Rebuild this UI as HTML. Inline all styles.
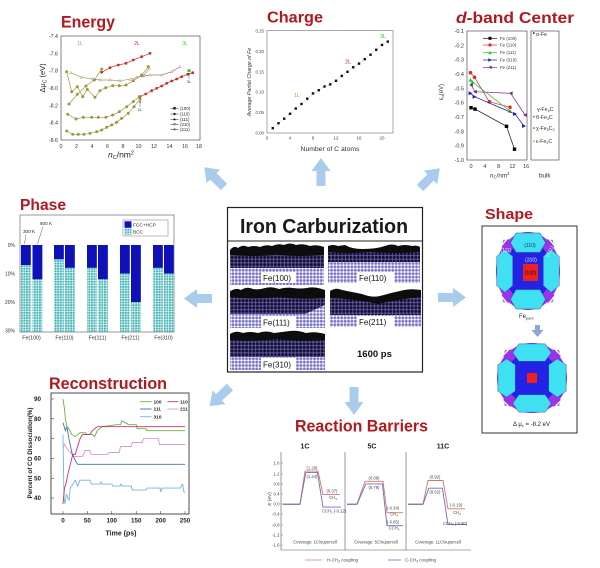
<!DOCTYPE html>
<html><head><meta charset="utf-8"><style>
html,body{margin:0;padding:0;background:#fff;width:600px;height:568px;overflow:hidden}
svg{display:block}
text{font-family:"Liberation Sans",Arial,sans-serif}
</style></head><body>
<svg width="600" height="568" viewBox="0 0 600 568" xmlns="http://www.w3.org/2000/svg">
<defs>
<pattern id="lav" width="3.4" height="3.4" patternUnits="userSpaceOnUse"><rect width="3.4" height="3.4" fill="#fff"/><circle cx="1.7" cy="1.7" r="1.45" fill="#7c76c6"/></pattern>
<pattern id="dark" width="3.6" height="3.6" patternUnits="userSpaceOnUse"><rect width="3.6" height="3.6" fill="#5c55aa"/><circle cx="1.8" cy="1.8" r="1.45" fill="#121122"/></pattern>
<pattern id="bcc" width="2.6" height="2.6" patternUnits="userSpaceOnUse"><rect width="2.6" height="2.6" fill="#e6f7f7"/><rect width="1.9" height="1.9" fill="#3fb2b2"/></pattern>
<marker id="mo" markerWidth="4" markerHeight="4" refX="2" refY="2" markerUnits="userSpaceOnUse"><circle cx="2" cy="2" r="1.3" fill="#a3a03c" stroke="#6e6b20" stroke-width="0.3"/></marker>
<marker id="mr" markerWidth="4" markerHeight="4" refX="2" refY="2" markerUnits="userSpaceOnUse"><circle cx="2" cy="2" r="1.4" fill="#c9302b"/></marker>
<marker id="mt" markerWidth="4" markerHeight="4" refX="2" refY="2" markerUnits="userSpaceOnUse"><path d="M2,0.6 L3.3,3 L0.7,3Z" fill="#fff" stroke="#8a8a5a" stroke-width="0.4"/></marker>
<marker id="msq" markerWidth="4" markerHeight="4" refX="2" refY="2" markerUnits="userSpaceOnUse"><rect x="0.8" y="0.8" width="2.4" height="2.4" fill="#111"/></marker>
<marker id="dk" markerWidth="5" markerHeight="5" refX="2.5" refY="2.5" markerUnits="userSpaceOnUse"><rect x="0.8" y="0.8" width="3.4" height="3.4" fill="#000"/></marker>
<marker id="dr" markerWidth="5" markerHeight="5" refX="2.5" refY="2.5" markerUnits="userSpaceOnUse"><circle cx="2.5" cy="2.5" r="1.8" fill="#e02a2a"/></marker>
<marker id="dg" markerWidth="5" markerHeight="5" refX="2.5" refY="2.5" markerUnits="userSpaceOnUse"><path d="M2.5,0.5 L4.6,4.3 L0.4,4.3Z" fill="#22cc22"/></marker>
<marker id="db" markerWidth="5" markerHeight="5" refX="2.5" refY="2.5" markerUnits="userSpaceOnUse"><path d="M0.6,0.5 L4.5,2.5 L0.6,4.5Z" fill="#1a1aa8"/></marker>
<marker id="dp" markerWidth="5" markerHeight="5" refX="2.5" refY="2.5" markerUnits="userSpaceOnUse"><path d="M4.4,0.5 L0.5,2.5 L4.4,4.5Z" fill="#7a2a8a"/></marker>
<g id="poly">
<circle r="40" fill="#9b34e8"/>
<polygon points="-16,-30 16,-30 30,-16 30,16 16,30 -16,30 -30,16 -30,-16" fill="#2323e6"/>
<polygon points="25,-33 33,-25 25,-17 17,-25" fill="#9b34e8"/>
<polygon points="-25,-33 -33,-25 -25,-17 -17,-25" fill="#9b34e8"/>
<polygon points="25,33 33,25 25,17 17,25" fill="#9b34e8"/>
<polygon points="-25,33 -33,25 -25,17 -17,25" fill="#9b34e8"/>
<polygon points="-15,-39 15,-39 22,-29 15,-19 -15,-19 -22,-29" fill="#3fe0f2" stroke="#2a2ab0" stroke-width="0.5"/>
<polygon points="-15,39 15,39 22,29 15,19 -15,19 -22,29" fill="#3fe0f2" stroke="#2a2ab0" stroke-width="0.5"/>
<polygon points="-39,-15 -39,15 -29,22 -19,15 -19,-15 -29,-22" fill="#3fe0f2" stroke="#2a2ab0" stroke-width="0.5"/>
<polygon points="39,-15 39,15 29,22 19,15 19,-15 29,-22" fill="#3fe0f2" stroke="#2a2ab0" stroke-width="0.5"/>
<polygon points="28,-32 32,-28 31,-32" fill="#888"/>
<polygon points="-28,-32 -32,-28 -31,-32" fill="#888"/>
<polygon points="28,32 32,28 31,32" fill="#888"/>
<polygon points="-28,32 -32,28 -31,32" fill="#888"/>
</g>
<polygon id="arr" points="0,-4.5 15,-4.5 15,-9.5 28,0 15,9.5 15,4.5 0,4.5"/>
</defs>

<!-- Arrows -->
<g fill="#a9cbec">
<use href="#arr" transform="translate(224,187) rotate(-135)"/>
<use href="#arr" transform="translate(321,186) rotate(-90)"/>
<use href="#arr" transform="translate(420,188) rotate(-45)"/>
<use href="#arr" transform="translate(212,298.5) rotate(180)"/>
<use href="#arr" transform="translate(438,297.5)"/>
<use href="#arr" transform="translate(230,387) rotate(137)"/>
<use href="#arr" transform="translate(354,387) rotate(90)"/>
</g>

<!-- ============ ENERGY ============ -->
<text x="61" y="27.5" font-size="17" font-weight="bold" fill="#b0191f" textLength="54" lengthAdjust="spacingAndGlyphs">Energy</text>
<rect x="61" y="36" width="139" height="104" fill="none" stroke="#333" stroke-width="0.6"/>
<g font-size="5.3" fill="#333" text-anchor="end">
<text x="58" y="38">-7.4</text><text x="58" y="55.3">-7.6</text><text x="58" y="72.7">-7.8</text><text x="58" y="90">-8.0</text><text x="58" y="107.3">-8.2</text><text x="58" y="124.7">-8.4</text><text x="58" y="142">-8.6</text>
</g>
<g font-size="5.3" fill="#333" text-anchor="middle">
<text x="61" y="148">0</text><text x="76.5" y="148">2</text><text x="92" y="148">4</text><text x="107.5" y="148">6</text><text x="123" y="148">8</text><text x="138.5" y="148">10</text><text x="154" y="148">12</text><text x="169.5" y="148">14</text><text x="185" y="148">16</text><text x="199" y="148">18</text>
</g>
<text x="108" y="157.5" font-size="8.5" fill="#222"><tspan font-style="italic">n</tspan><tspan font-size="5.5" dy="1.5">C</tspan><tspan dy="-1.5">/nm</tspan><tspan font-size="5.5" dy="-3">2</tspan></text>
<text transform="translate(45,78) rotate(-90)" font-size="7.5" fill="#222" text-anchor="middle">Δμ<tspan font-size="5" dy="1.5">C</tspan><tspan dy="-1.5"> (eV)</tspan></text>
<g fill="none" stroke-width="0.7">
<polyline stroke="#9a9a70" marker-mid="url(#mt)" marker-start="url(#mt)" marker-end="url(#mt)" points="70.7,72.7 81.7,77.3 92.7,79 100,80 110,80 120,80.7 130,79.3 136.7,77.3 143.3,76 149.3,68.3"/>
<polyline stroke="#b07070" marker-mid="url(#mt)" marker-end="url(#mt)" points="136.7,77.3 150,75 161.7,75 171.7,71.7 180,66.7"/>
<polyline stroke="#a3a03c" marker-mid="url(#mo)" marker-start="url(#mo)" marker-end="url(#mo)" points="66.7,131 72.7,134.3 78.3,134.3 84,134.3 90,133.3 96.7,131.7 101.7,130 106.7,127.3 111.7,125 116.7,122.3 121.7,118.3 128.3,113.3 134,106.7 140,99.3"/>
<polyline stroke="#c9302b" marker-mid="url(#mr)" marker-start="url(#mr)" marker-end="url(#mr)" points="140,96.7 145.7,94 151.7,90.7 156.7,88.3 161.7,86 166.7,83.3 171.7,81 176.7,79 181.7,76.7 187.7,74.3 192.7,72.7"/>
<polyline stroke="#a3a03c" marker-mid="url(#mo)" marker-start="url(#mo)" marker-end="url(#mo)" points="67.7,114.3 76,119 83.3,117.3 91.7,117.3 98.3,117.3 106,117.3 112.7,115 119.3,111.7 126.7,106.7 133.3,101.7 139.3,96.7"/>
<polyline stroke="#a3a03c" marker-mid="url(#mo)" marker-start="url(#mo)" marker-end="url(#mo)" points="69,104 77.3,94.3 86,86 94.3,80 101.7,69"/>
<polyline stroke="#c9302b" marker-mid="url(#mr)" marker-start="url(#mr)" marker-end="url(#mr)" points="101.7,72.3 110,67.7 118.3,65 126,63.3 133.3,60 141.7,56.7 150,53.3"/>
<polyline stroke="#a3a03c" marker-mid="url(#mo)" marker-start="url(#mo)" marker-end="url(#mo)" points="66.7,71.7 71.7,91.7 77.3,86.7 82.7,96.7 87.3,89.3 95,97.3 100,90.7 105.7,87.7 112.7,85.7 119.3,85.7 126,85 133.3,80.7 141.7,75 148.3,66.7"/>
</g>
<rect x="187.5" y="69.2" width="3" height="3" fill="#3c3"/>
<path d="M189,73 V79 M187.8,75 L189,73 L190.2,75" stroke="#333" stroke-width="0.4" fill="none"/>
<text x="189" y="83" font-size="4" text-anchor="middle" fill="#333">3L</text>
<path d="M140,101 V107 M138.8,103 L140,101 L141.2,103" stroke="#333" stroke-width="0.4" fill="none"/>
<text x="140" y="111" font-size="4" text-anchor="middle" fill="#333">2L</text>
<text x="80" y="45" font-size="5" fill="#a3a03c" text-anchor="middle">1L</text>
<text x="137" y="45" font-size="5" fill="#c9302b" text-anchor="middle">2L</text>
<text x="185" y="45" font-size="5" fill="#3c3" text-anchor="middle">3L</text>
<g stroke="#222" stroke-width="0.5" font-size="4.3" fill="#222">
<line x1="170.5" y1="108.3" x2="178.5" y2="108.3"/><rect x="173.5" y="107.3" width="2" height="2"/>
<line x1="170.5" y1="114" x2="178.5" y2="114"/><circle cx="174.5" cy="114" r="1"/>
<line x1="170.5" y1="119.3" x2="178.5" y2="119.3"/><path d="M174.5,118.2 L175.5,120 L173.5,120Z"/>
<line x1="170.5" y1="124.3" x2="178.5" y2="124.3"/><path d="M174.5,125.4 L175.5,123.6 L173.5,123.6Z" fill="#fff"/>
<line x1="170.5" y1="129.3" x2="178.5" y2="129.3"/><path d="M174.5,128.2 L175.5,130 L173.5,130Z" fill="#fff"/>
</g>
<g font-size="4.3" fill="#222">
<text x="180" y="109.8">(100)</text><text x="180" y="115.5">(110)</text><text x="180" y="120.8">(111)</text><text x="180" y="125.8">(310)</text><text x="180" y="130.8">(211)</text>
</g>

<!-- ============ CHARGE ============ -->
<text x="267" y="22.5" font-size="16" font-weight="bold" fill="#b0191f" textLength="56" lengthAdjust="spacingAndGlyphs">Charge</text>
<rect x="267" y="30.5" width="126" height="102.5" fill="none" stroke="#555" stroke-width="0.5"/>
<g font-size="4.4" fill="#444" text-anchor="end">
<text x="264" y="32.5">0.25</text><text x="264" y="52.9">0.20</text><text x="264" y="73.3">0.15</text><text x="264" y="93.7">0.10</text><text x="264" y="114.1">0.05</text><text x="264" y="134.5">0.00</text>
</g>
<g font-size="4.4" fill="#444" text-anchor="middle">
<text x="267" y="139.5">0</text><text x="290" y="139.5">4</text><text x="313" y="139.5">8</text><text x="336" y="139.5">12</text><text x="359" y="139.5">16</text><text x="382" y="139.5">20</text>
</g>
<text x="330" y="151" font-size="6.8" fill="#333" text-anchor="middle">Number of C atoms</text>
<text transform="translate(251,82) rotate(-90)" font-size="5.3" font-style="italic" fill="#333" text-anchor="middle">Average Partial Charge of Fe</text>
<polyline fill="none" stroke="#c88080" stroke-width="0.5" stroke-dasharray="1,1.2" marker-start="url(#msq)" marker-mid="url(#msq)" marker-end="url(#msq)" points="272.75,128.1 278.5,123.2 284.25,118.7 290,113.8 295.75,108.5 301.5,104 307.25,98.7 313,93.4 318.75,90.2 324.5,86.5 330.25,84.4 336,80.8 341.75,75.9 347.5,71.8 353.25,67.3 359,63.6 364.75,59.2 370.5,54.7 376.25,49.8 382,44.9 387.75,41.6"/>
<text x="297" y="97" font-size="5.5" fill="#b5a83a" text-anchor="middle">1L</text>
<text x="348" y="63.5" font-size="5.5" fill="#c9302b" text-anchor="middle">2L</text>
<text x="383" y="38" font-size="5.5" fill="#3c3" text-anchor="middle">3L</text>

<!-- ============ D-BAND ============ -->
<text x="456" y="23" font-size="16" font-weight="bold" fill="#b0191f" textLength="118" lengthAdjust="spacingAndGlyphs"><tspan font-style="italic">d</tspan>-band Center</text>
<rect x="467" y="31" width="60" height="129" fill="none" stroke="#333" stroke-width="0.6"/>
<rect x="531" y="31" width="28" height="129" fill="none" stroke="#333" stroke-width="0.6"/>
<g font-size="5.5" fill="#333" text-anchor="end">
<text x="464" y="33">-0.1</text><text x="464" y="47.3">-0.2</text><text x="464" y="61.7">-0.3</text><text x="464" y="76">-0.4</text><text x="464" y="90.3">-0.5</text><text x="464" y="104.7">-0.6</text><text x="464" y="119">-0.7</text><text x="464" y="133.3">-0.8</text><text x="464" y="147.7">-0.9</text><text x="464" y="162">-1.0</text>
</g>
<g font-size="5.5" fill="#333" text-anchor="middle">
<text x="471" y="168">0</text><text x="484.8" y="168">4</text><text x="498.6" y="168">8</text><text x="512.4" y="168">12</text><text x="526.2" y="168">16</text>
</g>
<text x="490" y="177.5" font-size="6.3" fill="#333"><tspan font-style="italic">n</tspan><tspan font-size="4.3" dy="1.2">C</tspan><tspan dy="-1.2">/nm</tspan><tspan font-size="4.3" dy="-2.5">2</tspan></text>
<text x="539" y="177.5" font-size="6.3" fill="#333">bulk</text>
<text transform="translate(443,92) rotate(-90)" font-size="6" fill="#333" text-anchor="middle">ε<tspan font-size="4" dy="1.2">d</tspan><tspan dy="-1.2">(eV)</tspan></text>
<g fill="none" stroke-width="0.7">
<polyline stroke="#111" marker-start="url(#dk)" marker-mid="url(#dk)" marker-end="url(#dk)" points="471,107.7 475,109.1 506.5,126.3 514.5,149.2"/>
<polyline stroke="#d03030" marker-start="url(#dr)" marker-mid="url(#dr)" marker-end="url(#dr)" points="470.5,72.7 474.5,77.3 489.3,101.7 510,107.3"/>
<polyline stroke="#22bb22" marker-start="url(#dg)" marker-mid="url(#dg)" marker-end="url(#dg)" points="470.5,80 472.5,82 510,111"/>
<polyline stroke="#1a1aa8" marker-start="url(#db)" marker-mid="url(#db)" marker-end="url(#db)" points="470.5,93.3 474.5,96.7 515,114 524,126"/>
<polyline stroke="#7a2a8a" marker-start="url(#dp)" marker-mid="url(#dp)" marker-end="url(#dp)" points="471,85 475,91.7 510.7,93.3 525,115"/>
</g>
<g stroke-width="0.7">
<line x1="483" y1="38.3" x2="497" y2="38.3" stroke="#111"/><rect x="488.5" y="36.8" width="3" height="3" fill="#000"/>
<line x1="483" y1="45" x2="497" y2="45" stroke="#d03030"/><circle cx="490" cy="45" r="1.6" fill="#e02a2a"/>
<line x1="483" y1="52.7" x2="497" y2="52.7" stroke="#22bb22"/><path d="M490,50.9 L491.8,54.2 L488.2,54.2Z" fill="#22cc22"/>
<line x1="483" y1="60" x2="497" y2="60" stroke="#1a1aa8"/><path d="M488.3,58.2 L491.8,60 L488.3,61.8Z" fill="#1a1aa8"/>
<line x1="483" y1="67.3" x2="497" y2="67.3" stroke="#7a2a8a"/><path d="M491.7,65.5 L488.2,67.3 L491.7,69.1Z" fill="#7a2a8a"/>
</g>
<g font-size="4.4" fill="#333">
<text x="500" y="39.8">Fe (100)</text><text x="500" y="46.5">Fe (110)</text><text x="500" y="54.2">Fe (111)</text><text x="500" y="61.5">Fe (310)</text><text x="500" y="68.8">Fe (211)</text>
</g>
<rect x="533" y="32.3" width="1.6" height="1.6" fill="#1a1aa8"/>
<rect x="533" y="115.8" width="1.6" height="1.6" fill="#b040c0"/>
<rect x="533" y="127.3" width="1.6" height="1.6" fill="#22aa22"/>
<rect x="533" y="140.5" width="1.6" height="1.6" fill="#f0a020"/>
<g font-size="5.3" fill="#333">
<text x="536" y="36">α-Fe</text>
<text x="537" y="111">γ-Fe<tspan font-size="3.6" dy="1">4</tspan><tspan dy="-1">C</tspan></text>
<text x="536" y="119">θ-Fe<tspan font-size="3.6" dy="1">3</tspan><tspan dy="-1">C</tspan></text>
<text x="536" y="130">χ-Fe<tspan font-size="3.6" dy="1">5</tspan><tspan dy="-1">C</tspan><tspan font-size="3.6" dy="1">2</tspan></text>
<text x="536" y="143">ε-Fe<tspan font-size="3.6" dy="1">2</tspan><tspan dy="-1">C</tspan></text>
</g>

<!-- ============ PHASE ============ -->
<text x="20" y="210" font-size="16" font-weight="bold" fill="#b0191f" textLength="46" lengthAdjust="spacingAndGlyphs">Phase</text>
<rect x="20" y="215" width="154" height="117" fill="#fff" stroke="#555" stroke-width="0.6"/>
<g fill="url(#bcc)">
<rect x="21" y="245" width="9.8" height="86.5"/><rect x="32.5" y="245" width="9.8" height="86.5"/>
<rect x="54" y="245" width="9.8" height="86.5"/><rect x="65" y="245" width="9.8" height="86.5"/>
<rect x="87" y="245" width="9.8" height="86.5"/><rect x="98" y="245" width="9.8" height="86.5"/>
<rect x="120" y="245" width="9.8" height="86.5"/><rect x="131" y="245" width="9.8" height="86.5"/>
<rect x="153" y="245" width="9.8" height="86.5"/><rect x="164" y="245" width="9.8" height="86.5"/>
</g>
<g fill="#1010b8">
<rect x="21" y="245" width="9.8" height="20"/><rect x="32.5" y="245" width="9.8" height="34.2"/>
<rect x="54" y="245" width="9.8" height="14.3"/><rect x="65" y="245" width="9.8" height="22.8"/>
<rect x="87" y="245" width="9.8" height="22.8"/><rect x="98" y="245" width="9.8" height="34.2"/>
<rect x="120" y="245" width="9.8" height="28.5"/><rect x="131" y="245" width="9.8" height="57"/>
<rect x="153" y="245" width="9.8" height="22.8"/><rect x="164" y="245" width="9.8" height="28.5"/>
</g>
<g font-size="5" fill="#333" text-anchor="end">
<text x="15" y="246.8">0%</text><text x="15" y="275.3">10%</text><text x="15" y="303.8">20%</text><text x="15" y="332.3">30%</text>
</g>
<g font-size="5.3" fill="#333" text-anchor="middle">
<text x="31.5" y="339.5">Fe(100)</text><text x="64.5" y="339.5">Fe(110)</text><text x="97.5" y="339.5">Fe(111)</text><text x="130.5" y="339.5">Fe(211)</text><text x="163.5" y="339.5">Fe(310)</text>
</g>
<rect x="123" y="220" width="45" height="16" fill="#fff" stroke="#555" stroke-width="0.4"/>
<rect x="124.5" y="221.3" width="7" height="6.5" fill="#1010b8"/>
<rect x="124.5" y="228.3" width="7" height="6.5" fill="url(#bcc)"/>
<text x="133" y="226.5" font-size="4.8" fill="#222">FCC+HCP</text>
<text x="133" y="233.5" font-size="4.8" fill="#222">BCC</text>
<text x="23" y="233" font-size="4.6" fill="#222">300 K</text>
<text x="40" y="225" font-size="4.6" fill="#222">600 K</text>
<path d="M26,234.5 L24.5,244 M43,226.5 L37.5,244" stroke="#333" stroke-width="0.4"/>

<!-- ============ CENTER BOX ============ -->
<rect x="227.5" y="207.5" width="195" height="164.5" fill="#fff" stroke="#222" stroke-width="1.2"/>
<line x1="227.5" y1="241" x2="422.5" y2="241" stroke="#222" stroke-width="1"/>
<text x="240" y="233" font-size="20" font-weight="bold" fill="#1a1a1a" textLength="168" lengthAdjust="spacingAndGlyphs">Iron Carburization</text>
<!-- Fe(100) -->
<rect x="230" y="250" width="94" height="35" fill="url(#lav)"/>
<rect x="230" y="252" width="94" height="16" fill="url(#dark)"/>
<path d="M230,250 Q234,245 238,248 Q243,244 248,247 Q254,245 260,247 Q266,244 272,246 Q278,243 284,245 Q290,242 296,245 Q303,243 310,246 Q317,244 324,247 V255 Q300,257 277,255 Q253,257 230,255 Z" fill="#0d0d0d"/>
<rect x="261" y="272" width="35" height="11" fill="#fff"/>
<text x="263" y="281" font-size="8" fill="#111">Fe(100)</text>
<!-- Fe(110) -->
<rect x="328" y="250" width="92" height="33" fill="url(#lav)"/>
<rect x="328" y="249" width="92" height="13" fill="url(#dark)"/>
<path d="M328,246 Q333,244 338,246 L345,245 Q352,249 362,249 Q375,249 385,246 Q392,243 398,246 Q405,244 412,246 Q417,245 420,247 V252 Q395,254 370,252 Q350,254 328,252 Z" fill="#0d0d0d"/>
<rect x="357" y="272" width="37" height="11" fill="#fff"/>
<text x="359" y="281" font-size="8" fill="#111">Fe(110)</text>
<!-- Fe(111) -->
<rect x="230" y="290" width="95" height="38" fill="url(#lav)"/>
<path d="M230,292 H325 V305 L305,314 H230 Z" fill="url(#dark)"/>
<path d="M230,292 Q235,287 241,290 Q247,286 253,289 Q259,290 265,288 Q272,286 279,289 Q286,287 293,288 Q300,289 307,288 Q314,286 325,290 V298 Q300,300 278,297 Q255,300 230,297 Z" fill="#0d0d0d"/>
<rect x="261" y="316" width="35" height="12" fill="#fff"/>
<text x="263" y="325.5" font-size="8" fill="#111">Fe(111)</text>
<!-- Fe(211) -->
<rect x="330" y="300" width="91" height="27" fill="url(#lav)"/>
<path d="M330,292 L375,300 L421,292 V315 H330 Z" fill="url(#dark)"/>
<path d="M330,291 Q336,287 342,290 Q352,292 362,294 Q372,298 380,296 Q390,293 400,291 Q410,288 421,290 V297 Q400,299 378,304 Q355,299 330,298 Z" fill="#0d0d0d"/>
<rect x="357" y="316" width="37" height="11" fill="#fff"/>
<text x="359" y="325" font-size="8" fill="#111">Fe(211)</text>
<!-- Fe(310) -->
<rect x="230" y="335" width="95" height="35" fill="url(#lav)"/>
<rect x="230" y="336" width="95" height="21" fill="url(#dark)"/>
<path d="M230,334 Q236,330 243,333 Q250,331 258,333 Q266,330 274,333 Q282,332 290,331 Q298,330 306,333 Q315,331 325,334 V340 Q300,342 277,339 Q253,342 230,340 Z" fill="#0d0d0d"/>
<rect x="261" y="358" width="35" height="12" fill="#fff"/>
<text x="263" y="367.5" font-size="8" fill="#111">Fe(310)</text>
<text x="357" y="357" font-size="9.5" font-weight="bold" fill="#111">1600 ps</text>

<!-- ============ SHAPE ============ -->
<text x="485" y="219" font-size="15" font-weight="bold" fill="#b0191f" textLength="48" lengthAdjust="spacingAndGlyphs">Shape</text>
<rect x="482" y="226" width="95" height="207" fill="#fff" stroke="#333" stroke-width="1"/>
<use href="#poly" transform="translate(528,271) scale(0.8,0.975)"/>
<rect x="523" y="264" width="15" height="17" fill="#ee2020"/>
<g font-size="5" text-anchor="middle">
<text x="530" y="247" fill="#1a2a5a">(110)</text>
<text x="506" y="252" fill="#e8e8ff">(111)</text>
<text x="531" y="261.5" fill="#e8e8ff">(310)</text>
<text x="551" y="252" fill="#e8e8ff" transform="rotate(-60 551 252)">(211)</text>
<text x="530.5" y="274.5" fill="#111">(100)</text>
</g>
<text x="519" y="318" font-size="6" fill="#222">Fe<tspan font-size="3.8" dy="1.5">pure</tspan></text>
<polygon points="535,325 540,325 540,330 543.5,330 537.5,337 531.5,330 535,330" fill="#8ba6cf"/>
<use href="#poly" transform="translate(532,378) scale(0.875)"/>
<rect x="527" y="373" width="10" height="10" fill="#ee2020"/>
<text x="513" y="426" font-size="6" fill="#222">Δ μ<tspan font-size="4" dy="1">c</tspan><tspan dy="-1"> = -8.2 eV</tspan></text>

<!-- ============ RECONSTRUCTION ============ -->
<text x="49" y="389" font-size="16.5" font-weight="bold" fill="#b0191f" textLength="118" lengthAdjust="spacingAndGlyphs">Reconstruction</text>
<rect x="51" y="393" width="138" height="121" fill="none" stroke="#222" stroke-width="0.8"/>
<g font-size="6.3" font-weight="bold" fill="#222" text-anchor="end">
<text x="41" y="401.2">90</text><text x="41" y="421">80</text><text x="41" y="440.8">70</text><text x="41" y="460.6">60</text><text x="41" y="480.4">50</text><text x="41" y="500.2">40</text>
</g>
<g stroke="#222" stroke-width="0.5">
<line x1="51" y1="399" x2="54" y2="399"/><line x1="51" y1="418.8" x2="54" y2="418.8"/><line x1="51" y1="438.6" x2="54" y2="438.6"/><line x1="51" y1="458.4" x2="54" y2="458.4"/><line x1="51" y1="478.2" x2="54" y2="478.2"/><line x1="51" y1="498" x2="54" y2="498"/>
<line x1="63" y1="514" x2="63" y2="511"/><line x1="87.4" y1="514" x2="87.4" y2="511"/><line x1="111.8" y1="514" x2="111.8" y2="511"/><line x1="136.2" y1="514" x2="136.2" y2="511"/><line x1="160.6" y1="514" x2="160.6" y2="511"/><line x1="185" y1="514" x2="185" y2="511"/>
</g>
<g font-size="6.3" font-weight="bold" fill="#222" text-anchor="middle">
<text x="63" y="522.5">0</text><text x="87.4" y="522.5">50</text><text x="111.8" y="522.5">100</text><text x="136.2" y="522.5">150</text><text x="160.6" y="522.5">200</text><text x="185" y="522.5">250</text>
</g>
<text x="121" y="535.5" font-size="7" font-weight="bold" fill="#222" text-anchor="middle">Time (ps)</text>
<text transform="translate(32,453) rotate(-90)" font-size="6.3" font-weight="bold" fill="#222" text-anchor="middle">Percent of CO Dissociation(%)</text>
<g fill="none" stroke-width="0.9">
<polyline stroke="#6cb8dc" points="63,434.6 64,498 65,503.9 66.4,494 67.9,498 69,500 70.3,488.1 72.8,484.1 75.2,480.2 77.6,486.1 80.1,480.2 89.8,480.2 91.3,484.1 100,484.1 101,482 102,484.1 111.8,484.1 112.8,486.1 120,486.1 121,484 122,486.1 131.3,486.1 132.3,490.1 146,490.1 147,488.1 160,488.1 161,492 162,488.1 180.1,488.1 182.6,484.1 184,492 185,492"/>
<polyline stroke="#d69ad0" points="63,448.5 64.5,444.5 66.9,448.5 70.3,452.5 73.7,456.4 82.5,456.4 85,450.5 89.8,450.5 91.3,454.4 106.9,454.4 109.4,452.5 119.1,452.5 120.6,446.5 131.3,446.5 132.3,442.5 142.1,442.5 143.5,438.6 158.2,438.6 159.6,444.5 185,444.5"/>
<polyline stroke="#3f72a6" points="63,422.8 64,426 65.4,430.7 66.9,426.7 68.9,438.6 71.8,452.5 75.2,460.4 77.6,464.3 185,464.3"/>
<polyline stroke="#6aaf3c" points="63,399 64.5,409 65.4,418.8 66.9,426.7 68.9,428.7 71.8,434.6 75.2,436.6 80.1,432.7 85,432.7 87.4,434.6 92.3,434.6 94.7,436.6 97.2,430.7 102,426.7 116.7,424.7 120.6,424.7 121.6,420.8 125.5,422.8 128.9,424.7 136.2,424.7 137.2,428.7 146,428.7 146.9,430.7 185,430.7"/>
<polyline stroke="#c2317a" points="63,503.9 64.5,488.1 65.9,484.1 67.9,474.2 70.3,464.3 72.8,454.4 75.2,454.4 77.6,446.5 80.1,438.6 82.5,434.6 89.8,434.6 92.3,430.7 97.2,426.7 185,426.7"/>
</g>
<g stroke-width="0.9">
<line x1="140" y1="401.7" x2="151.5" y2="401.7" stroke="#6aaf3c"/>
<line x1="167.5" y1="401.7" x2="178.5" y2="401.7" stroke="#c2317a"/>
<line x1="140" y1="409" x2="151.5" y2="409" stroke="#3f72a6"/>
<line x1="167.5" y1="409" x2="178.5" y2="409" stroke="#d69ad0"/>
<line x1="140" y1="416.7" x2="151.5" y2="416.7" stroke="#6cb8dc"/>
</g>
<g font-size="4.8" font-weight="bold" fill="#222">
<text x="153.5" y="403.4">100</text><text x="180" y="403.4">110</text>
<text x="153.5" y="410.7">111</text><text x="180" y="410.7">211</text>
<text x="153.5" y="418.4">310</text>
</g>

<!-- ============ REACTION BARRIERS ============ -->
<text x="295" y="431.5" font-size="17" font-weight="bold" fill="#b0191f" textLength="133" lengthAdjust="spacingAndGlyphs">Reaction Barriers</text>
<g font-size="7" font-weight="bold" fill="#222" text-anchor="middle">
<text x="305" y="448.5">1C</text><text x="372" y="448.5">5C</text><text x="443" y="448.5">11C</text>
</g>
<g stroke="#555" stroke-width="0.6">
<line x1="281" y1="452" x2="281" y2="550"/>
<line x1="345" y1="452" x2="345" y2="550"/>
<line x1="406" y1="452" x2="406" y2="550"/>
<line x1="281" y1="550" x2="471" y2="550"/>
</g>
<g stroke="#555" stroke-width="0.4">
<line x1="281" y1="463" x2="283" y2="463"/><line x1="281" y1="474" x2="283" y2="474"/><line x1="281" y1="484" x2="283" y2="484"/><line x1="281" y1="494" x2="283" y2="494"/><line x1="281" y1="504" x2="283" y2="504"/><line x1="281" y1="514" x2="283" y2="514"/><line x1="281" y1="525" x2="283" y2="525"/><line x1="281" y1="535" x2="283" y2="535"/><line x1="281" y1="545" x2="283" y2="545"/>
</g>
<g font-size="4.3" fill="#444" text-anchor="end">
<text x="279.5" y="464.5">1.6</text><text x="279.5" y="475.5">1.2</text><text x="279.5" y="485.5">0.8</text><text x="279.5" y="495.5">0.4</text><text x="279.5" y="505.5">0.0</text><text x="279.5" y="515.5">-0.4</text><text x="279.5" y="526.5">-0.8</text><text x="279.5" y="536.5">-1.2</text><text x="279.5" y="546.5">-1.6</text>
</g>
<text transform="translate(271,499) rotate(-90)" font-size="4.8" fill="#444" text-anchor="middle"><tspan font-style="italic">E</tspan> (eV)</text>
<g fill="none" stroke-width="0.9">
<path d="M283,504 H300 L305,471.1 H318 L323,494.6 H340" stroke="#d4756f"/>
<path d="M283,504.4 H300 L305.8,472.6 H317.4 L323,507.1 H341" stroke="#6c6cc4"/>
<path d="M347,504 H357 L365,481.3 H383 L387,512.7 H403" stroke="#d4756f"/>
<path d="M347,504.4 H357 L365.8,483.9 H382.4 L387,525.7 H403" stroke="#6c6cc4"/>
<path d="M408,504 H423 L428,480.5 H443 L448,508.8 H465" stroke="#d4756f"/>
<path d="M408,504.4 H423 L428.8,488.2 H442.4 L448,524.4 H467" stroke="#6c6cc4"/>
</g>
<g font-size="4.2" fill="#444" text-anchor="middle">
<text x="312" y="469.5">(1.29)</text><text x="312" y="477.8">(1.24)</text>
<text x="332" y="492.5">(0.37)</text><text x="333" y="499">CH<tspan font-size="3" dy="0.8">4</tspan></text>
<text x="334" y="512.5">CCH<tspan font-size="3" dy="0.8">3</tspan><tspan dy="-0.8"> (-0.12)</tspan></text>
<text x="374" y="479.5">(0.89)</text><text x="374" y="488.8">(0.79)</text>
<text x="393" y="509.5">(-0.34)</text><text x="394" y="515.5">CH<tspan font-size="3" dy="0.8">4</tspan></text>
<text x="393" y="523.5">(-0.85)</text><text x="394" y="529.5">CCH<tspan font-size="3" dy="0.8">3</tspan></text>
<text x="435" y="478.5">(0.92)</text><text x="435" y="493.5">(0.62)</text>
<text x="456" y="506.5">(-0.19)</text><text x="457" y="514">CH<tspan font-size="3" dy="0.8">4</tspan></text>
<text x="455" y="524.8">CCH<tspan font-size="3" dy="0.8">3</tspan><tspan dy="-0.8"> (-0.80)</tspan></text>
<text x="315" y="543.5">Coverage: 1C/supercell</text>
<text x="376" y="543.5">Coverage: 5C/supercell</text>
<text x="438" y="543.5">Coverage: 11C/supercell</text>
</g>
<line x1="305" y1="560" x2="322" y2="560" stroke="#d4756f" stroke-width="0.8"/>
<line x1="388" y1="560" x2="401" y2="560" stroke="#6c6cc4" stroke-width="0.8"/>
<g font-size="4.5" fill="#444">
<text x="327" y="561.5">H-CH<tspan font-size="3.2" dy="0.8">3</tspan><tspan dy="-0.8"> coupling</tspan></text>
<text x="405" y="561.5">C-CH<tspan font-size="3.2" dy="0.8">3</tspan><tspan dy="-0.8"> coupling</tspan></text>
</g>
</svg>
</body></html>
